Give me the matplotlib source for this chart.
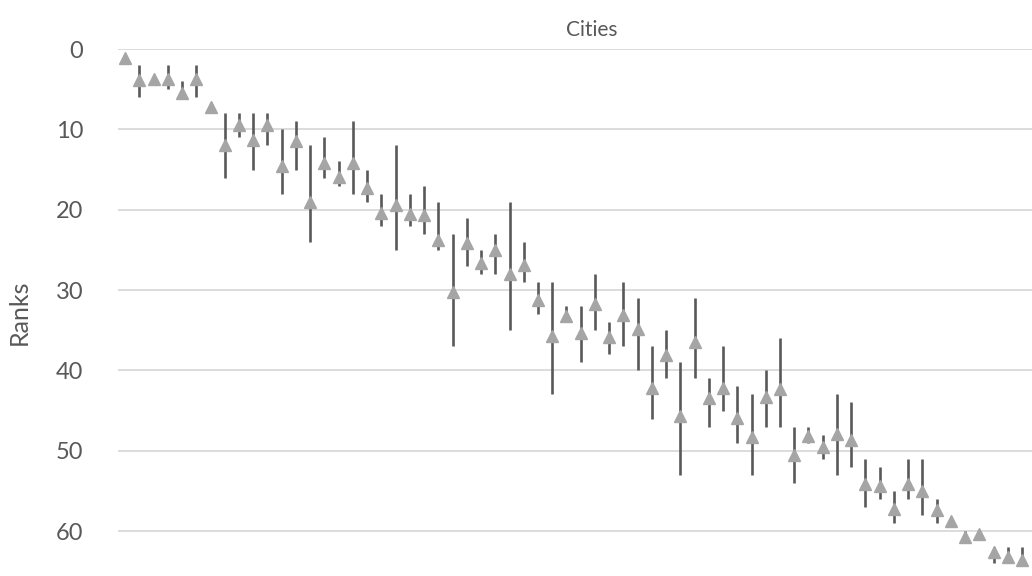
import matplotlib.pyplot as plt
import numpy as np

# average rank per city, with best and worst rank
avg_rank = [1.1, 3.9, 3.7, 3.7, 5.5, 3.7, 7.2, 11.9, 9.5, 11.3, 9.5, 14.6, 11.5, 19.0, 14.2, 15.9,
            14.2, 17.3, 20.4, 19.4, 20.5, 20.7, 23.8, 30.3, 24.1, 26.7, 25.0, 28.0, 26.9, 31.3, 35.7, 33.2,
            35.4, 31.7, 35.8, 33.1, 34.9, 42.2, 38.1, 45.7, 36.5, 43.5, 42.2, 45.9, 48.3, 43.3, 42.3, 50.6,
            48.2, 49.6, 47.9, 48.7, 54.1, 54.4, 57.3, 54.1, 55.0, 57.4, 58.7, 60.8, 60.4, 62.6, 63.2, 63.6]
best_rank = [1, 2, 3.7, 2, 4, 2, 7.2, 8, 8, 8, 8, 10, 9, 12, 11, 14,
             9, 15, 18, 12, 18, 17, 19, 23, 21, 25, 23, 19, 24, 29, 29, 32,
             32, 28, 34, 29, 31, 37, 35, 39, 31, 41, 37, 42, 43, 40, 36, 47,
             47, 48, 43, 44, 51, 52, 55, 51, 51, 56, 58.7, 60, 60, 62, 62, 62]
worst_rank = [1, 6, 3.7, 5, 6, 6, 7.2, 16, 11, 15, 12, 18, 15, 24, 16, 17,
              18, 19, 22, 25, 22, 23, 25, 37, 27, 28, 28, 35, 29, 33, 43, 34,
              39, 35, 38, 37, 40, 46, 41, 53, 41, 47, 45, 49, 53, 47, 47, 54,
              49, 51, 53, 52, 57, 56, 59, 56, 58, 59, 58.7, 61, 61, 64, 64, 64]
rank_ticks = [0, 10, 20, 30, 40, 50, 60]

plt.rcParams['font.family'] = ['Lato', 'DejaVu Sans']
text_col = '#595959'

fig = plt.figure(figsize=(10.32, 5.76), dpi=100)
ax = fig.add_axes([118 / 1032, 0, 1 - 118 / 1032, 1 - 49 / 576])

x = np.arange(len(avg_rank))
ax.vlines(x, best_rank, worst_rank, color='#595959', linewidth=1.9, zorder=2)
ax.plot(x, avg_rank, linestyle='none', marker='^', markersize=8, color='#A5A5A5', zorder=3, clip_on=False)

ax.set_ylim(65.6, 0)
ax.set_xlim(-0.5, len(avg_rank) - 0.3)
ax.set_yticks(rank_ticks)
ax.set_xticks([])
ax.grid(axis='y', color='#D9D9D9', linewidth=1.3)
ax.set_axisbelow(True)
for s in ax.spines.values():
    s.set_visible(False)
ax.tick_params(axis='y', length=0, pad=25, labelsize=17, labelcolor=text_col)

ax.set_ylabel('Ranks', fontsize=18, color=text_col, labelpad=18)
fig.text(592 / 1032, 1 - 30 / 576, 'Cities', ha='center', va='center', fontsize=15, color=text_col)

fig.savefig('out.png', dpi=100)
